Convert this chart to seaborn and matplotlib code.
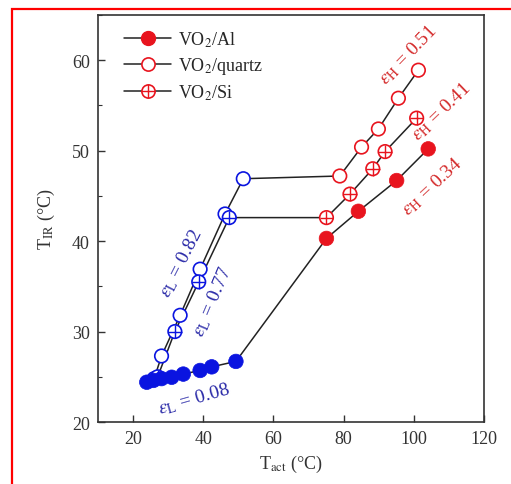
import numpy as np
import matplotlib
matplotlib.use("Agg")
import matplotlib.pyplot as plt
from matplotlib.lines import Line2D
from matplotlib.patches import Rectangle
from matplotlib.ticker import MultipleLocator
import seaborn as sns

# data (T_act, T_IR in degC)
al_x = [23.9, 25.8, 28.1, 31.0, 34.3, 39.1, 42.4, 49.3, 75.1, 84.2, 95.1, 104.1]
al_y = [24.4, 24.6, 24.8, 24.95, 25.3, 25.7, 26.1, 26.7, 40.3, 43.3, 46.7, 50.2]

quartz_x = [26.0, 28.1, 33.4, 39.1, 46.2, 51.4, 78.9, 85.1, 89.9, 95.6, 101.3]
quartz_y = [24.8, 27.3, 31.8, 36.9, 43.0, 46.9, 47.2, 50.4, 52.4, 55.8, 58.9]

si_x = [27.0, 31.9, 38.7, 47.4, 75.1, 81.8, 88.3, 91.8, 100.8]
si_y = [25.0, 30.0, 35.5, 42.6, 42.6, 45.2, 48.0, 49.9, 53.6]

labels = ["VO$_2$/Al", "VO$_2$/quartz", "VO$_2$/Si"]
low_labels = ["0.82", "0.77", "0.08"]
high_labels = ["0.51", "0.41", "0.34"]

blue = "#0a14e0"
red = "#e8141e"
txt_blue = "#2a2aa8"
txt_red = "#d42a2a"

sns.set_style("ticks")
plt.rcParams["font.family"] = ["Liberation Serif", "DejaVu Serif"]
plt.rcParams["mathtext.fontset"] = "stix"

fig = plt.figure(figsize=(5.11, 4.85), dpi=100)
ax = fig.add_axes([0.1918, 0.1278, 0.7554, 0.8392])


def side_colors(xs):
    return [blue if x < 60 else red for x in xs]


# connecting lines
for xs, ys in [(al_x, al_y), (quartz_x, quartz_y), (si_x, si_y)]:
    sns.lineplot(x=xs, y=ys, sort=False, estimator=None, color="#222222",
                 lw=1.1, ax=ax, zorder=2)

# open circles (quartz)
sns.scatterplot(x=quartz_x, y=quartz_y, marker="o", s=95, fc="white",
                ec=side_colors(quartz_x), linewidth=1.2, ax=ax, zorder=3)
# crossed circles (Si)
sns.scatterplot(x=si_x, y=si_y, marker="o", s=95, fc="white",
                ec=side_colors(si_x), linewidth=1.2, ax=ax, zorder=3)
ax.scatter(si_x, si_y, marker="+", s=95, c=side_colors(si_x), linewidths=1.0,
           zorder=3.5)
# filled circles (Al)
sns.scatterplot(x=al_x, y=al_y, marker="o", s=110, color=side_colors(al_x),
                ec=side_colors(al_x), linewidth=0.5, ax=ax, zorder=4)

ax.set_xlim(10, 120)
ax.set_ylim(20, 65)
ax.xaxis.set_major_locator(MultipleLocator(20))
ax.yaxis.set_major_locator(MultipleLocator(10))
ax.yaxis.set_minor_locator(MultipleLocator(5))
ax.tick_params(axis="both", which="major", direction="in", length=5,
               width=1.0, labelsize=13, labelcolor="#333333", color="#333333",
               pad=6)
ax.tick_params(axis="y", which="minor", direction="in", length=3, width=0.8,
               color="#333333")
for sp in ax.spines.values():
    sp.set_visible(True)
    sp.set_linewidth(1.2)
    sp.set_color("#333333")

ax.set_xlabel("T$_{\\rm act}$ (°C)", fontsize=13, color="#333333", labelpad=4)
ax.set_ylabel("T$_{\\rm IR}$ (°C)", fontsize=13, color="#333333", labelpad=11)

# emissivity notes
ann = [
    ("$\\varepsilon_{\\rm L}$ = " + low_labels[0], 181, 264, 63, txt_blue),
    ("$\\varepsilon_{\\rm L}$ = " + low_labels[1], 212, 302, 67, txt_blue),
    ("$\\varepsilon_{\\rm L}$ = " + low_labels[2], 194, 399, 16, txt_blue),
    ("$\\varepsilon_{\\rm H}$ = " + high_labels[0], 408, 55, 46, txt_red),
    ("$\\varepsilon_{\\rm H}$ = " + high_labels[1], 441, 112, 44, txt_red),
    ("$\\varepsilon_{\\rm H}$ = " + high_labels[2], 432, 187, 43, txt_red),
]
for t, px, py, rot, col in ann:
    fig.text(px / 511, 1 - py / 485, t, rotation=rot, color=col, fontsize=14,
             ha="center", va="center", rotation_mode="anchor")

# legend
h_al = Line2D([], [], color="#222222", lw=1.1, marker="o", ms=10, mfc=red,
              mec=red)
h_q = Line2D([], [], color="#222222", lw=1.1, marker="o", ms=9.5, mfc="white",
             mec=red, mew=1.2)
h_si = Line2D([], [], color="#222222", lw=1.1, marker="o", ms=9.5, mfc="white",
              mec=red, mew=1.2)
h_si_p = Line2D([], [], ls="none", marker="+", ms=9.5, mec=red, mew=1.0)
ax.legend([h_al, h_q, (h_si, h_si_p)], labels, loc="upper left",
          frameon=False, fontsize=13, handlelength=2.6, handletextpad=0.4,
          labelspacing=0.35, borderaxespad=0.4, bbox_to_anchor=(0.03, 1.0))

# red frame around the figure
fig.patches.append(Rectangle((12 / 511, -0.1), 1.2, 1 - 10 / 485 + 0.1,
                             transform=fig.transFigure, fill=False,
                             edgecolor="red", lw=1.6))

fig.savefig("out.png", dpi=100)
